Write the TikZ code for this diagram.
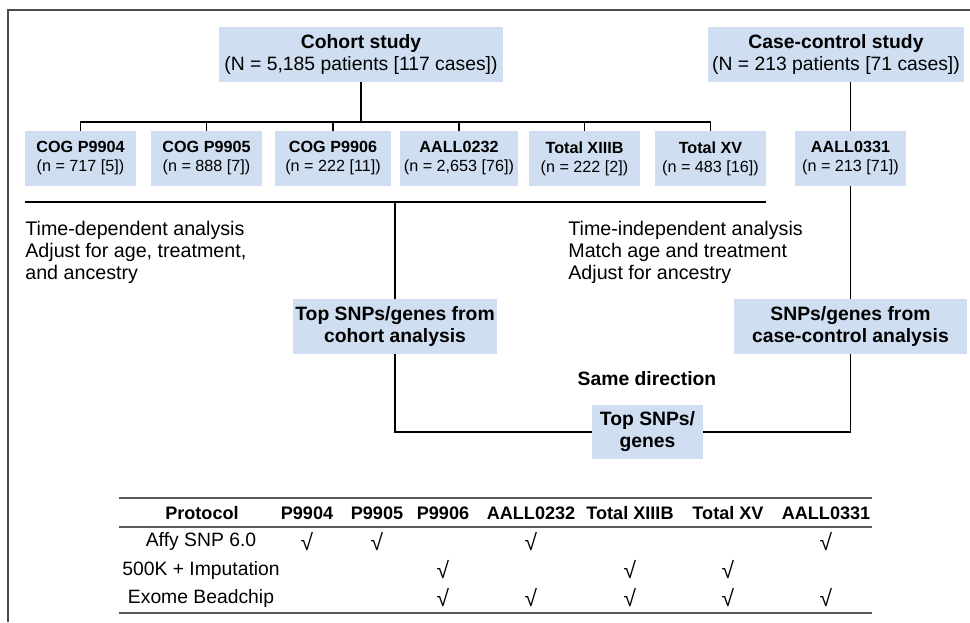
\documentclass[tikz,border=0pt]{standalone}
\usepackage{fontspec}
\setmainfont{Liberation Sans}
\usetikzlibrary{positioning}
\definecolor{boxblue}{RGB}{207,222,240}

\begin{document}
\begin{tikzpicture}[
    x=0.02cm, y=-0.02cm,
    every node/.style={font=\fontsize{11}{12.5}\selectfont},
    link/.style={line width=1.1pt, line join=miter},
    studybox/.style={fill=boxblue, inner sep=0pt, minimum height=1.1cm, align=center},
    trialbox/.style={studybox, minimum width=2.22cm, font=\fontsize{9.2}{10.8}\selectfont},
    resultbox/.style={studybox, font=\fontsize{11}{12.5}\selectfont\bfseries},
    notetext/.style={anchor=north west, align=left, inner sep=0pt, font=\fontsize{11.2}{12.5}\selectfont},
    rule/.style={draw=black!65, line width=0.8pt},
    colhead/.style={inner sep=0pt, font=\fontsize{10.3}{12}\selectfont\bfseries},
    yes/.style={inner sep=0pt, font=\fontsize{13}{14}\selectfont}
  ]
  \useasboundingbox (0,0) rectangle (970,622);
  \draw[draw=black!70, line width=0.85pt] (8,622) -- (8,10) -- (970,10);

  % the two studies
  \node[studybox, minimum width=5.68cm] (cohort) at (361,54.5) {\textbf{Cohort study}\\(N = 5,185 patients [117 cases])};
  \node[studybox, minimum width=5.12cm] (casectl) at (836,54.5) {\textbf{Case-control study}\\(N = 213 patients [71 cases])};

  % trials
  \node[trialbox] (p9904) at (80.5,158.5) {\textbf{COG P9904}\\(n = 717 [5])};
  \node[trialbox] (p9905) at (206.5,158.5) {\textbf{COG P9905}\\(n = 888 [7])};
  \node[trialbox, minimum width=2.32cm] (p9906) at (333,158.5) {\textbf{COG P9906}\\(n = 222 [11])};
  \node[trialbox, minimum width=2.36cm] (aall0232) at (459,158.5) {\textbf{AALL0232}\\(n = 2,653 [76])};
  \node[trialbox] (xiiib) at (584.5,158.5) {\textbf{Total XIIIB}\\(n = 222 [2])};
  \node[trialbox] (xv) at (710.5,158.5) {\textbf{Total XV}\\(n = 483 [16])};
  \node[trialbox] (aall0331) at (850.5,158.5) {\textbf{AALL0331}\\(n = 213 [71])};

  \draw[link] (cohort.south) -- ++(0,40) coordinate (bus);
  \foreach \t in {p9904,p9905,p9906,aall0232,xiiib,xv}
    \draw[link] (bus) -| (\t.north);
  \draw[link] (aall0331.north) -- (aall0331.north |- casectl.south);

  \coordinate (split) at ([yshift=-0.32cm]p9904.south west);
  \draw[link] (split) -- ([yshift=-0.32cm]xv.south east);

  % analyses
  \node[notetext] (tdnote) at (25,221) {Time-dependent analysis\\Adjust for age, treatment,\\and ancestry};
  \node[notetext] (tinote) at (568,221) {Time-independent analysis\\Match age and treatment\\Adjust for ancestry};

  \node[resultbox, minimum width=4.08cm] (topcoh) at (395,326.5) {Top SNPs/genes from\\cohort analysis};
  \node[resultbox, minimum width=4.66cm] (topcc) at (850.5,326.5) {SNPs/genes from\\case-control analysis};
  \node[font=\fontsize{11}{12.5}\selectfont\bfseries] (samedir) at (647,379) {Same direction};
  \node[resultbox, minimum width=2.22cm, minimum height=1.08cm] (topboth) at (647.5,432) {Top SNPs/\\genes};

  \draw[link] (topcoh.north) -- (topcoh.north |- split);
  \draw[link] (topcoh.south) |- (topboth.west);
  \draw[link] (aall0331.south) -- (topcc.north);
  \draw[link] (topcc.south) |- (topboth.east);

  % platform table
  \draw[rule] (119,498) -- (872,498);
  \draw[rule] (119,527) -- (872,527);
  \draw[rule] (119,613) -- (872,613);
  \foreach \x/\name/\lab in {202/protocol/Protocol, 307/h9904/P9904, 377/h9905/P9905,
      443/h9906/P9906, 531/h0232/AALL0232, 630/hxiiib/Total XIIIB, 728/hxv/Total XV, 826/h0331/AALL0331}
    \node[colhead] (\name) at (\x,513) {\lab};
  \foreach \y/\name/\lab in {542/affy/Affy SNP 6.0, 570/imput/500K + Imputation, 598/exome/Exome Beadchip}
    \node (\name) at (201,\y) {\lab};
  \foreach \col/\row in {h9904/affy, h9905/affy, h0232/affy, h0331/affy,
      h9906/imput, hxiiib/imput, hxv/imput,
      h9906/exome, h0232/exome, hxiiib/exome, hxv/exome, h0331/exome}
    \node[yes] (chk-\col-\row) at (\col |- \row) {√};
\end{tikzpicture}
\end{document}
